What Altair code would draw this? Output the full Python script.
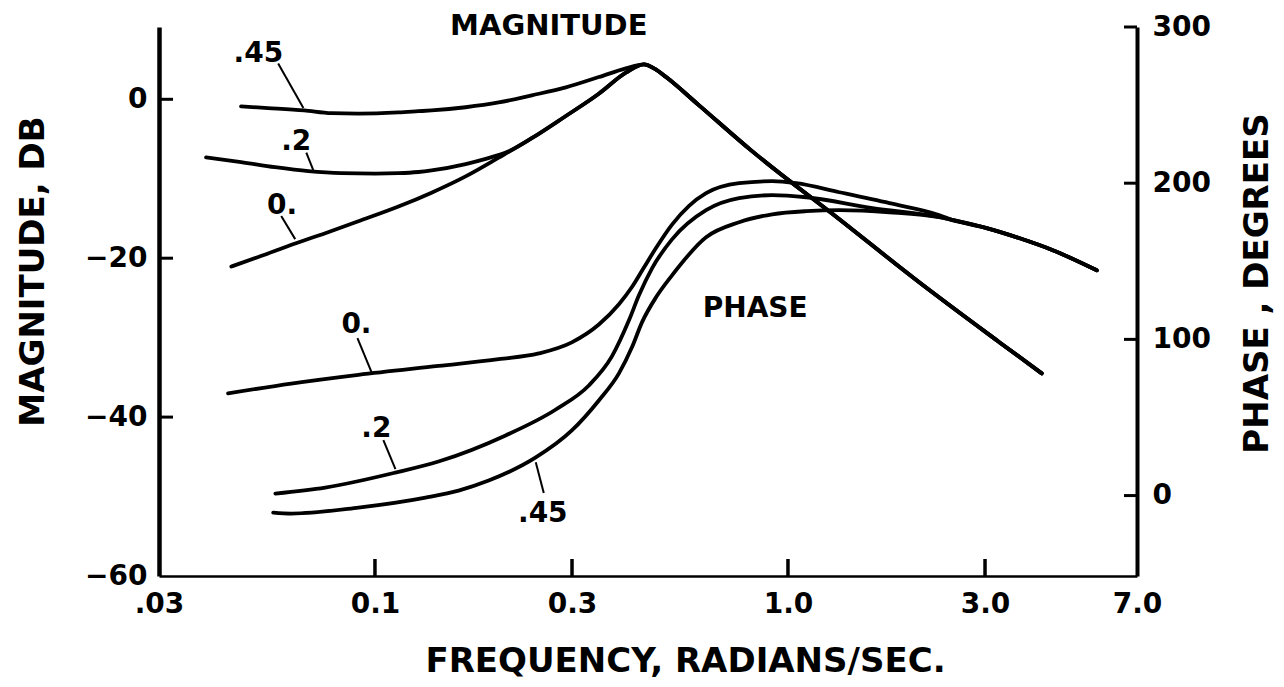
import altair as alt
import pandas as pd

# ---------------- data ----------------
# Magnitude (dB) curves, frequency in rad/s
mag_0_f = [0.0449, 0.0522, 0.0641, 0.0758, 0.0912, 0.1140, 0.1371, 0.1658, 0.1993, 0.2397, 0.2899, 0.3484, 0.4051]
mag_0_db = [-21.05, -19.85, -18.15, -16.85, -15.35, -13.5, -11.75, -9.7, -7.35, -4.9, -2.1, 0.7, 3.35]

mag_02_f = [0.0390, 0.0474, 0.0573, 0.0690, 0.0829, 0.1003, 0.1140, 0.1274, 0.1371, 0.1658, 0.1854, 0.2108, 0.2397, 0.2899, 0.3484, 0.4051]
mag_02_db = [-7.3, -7.9, -8.55, -9.05, -9.3, -9.35, -9.3, -9.15, -8.95, -8.15, -7.5, -6.55, -4.9, -2.1, 0.7, 3.35]

mag_045_f = [0.0474, 0.0551, 0.0674, 0.0784, 0.0912, 0.1140, 0.1274, 0.1371, 0.1658, 0.1993, 0.2397, 0.2899, 0.3484, 0.4051]
mag_045_db = [-0.9, -1.1, -1.4, -1.75, -1.8, -1.65, -1.5, -1.4, -1.0, -0.4, 0.5, 1.5, 2.8, 3.9]

# common resonant peak and high-frequency roll-off
mag_tail_f = [0.4480, 0.4738, 0.5068, 0.6092, 0.8145, 1.3316, 2.0822, 3.2545, 4.1156]
mag_tail_db = [4.4, 3.9, 2.8, -0.76, -6.43, -15.1, -23.06, -30.6, -34.5]

# Phase (degrees) curves
ph_0_f = [0.0441, 0.0627, 0.0912, 0.1425, 0.1993, 0.2493, 0.2997, 0.3484, 0.3897, 0.4190, 0.4480,
          0.4791, 0.5239, 0.5761, 0.6335, 0.7615, 0.9159, 1.0473, 1.3316, 1.7612, 2.3282]
ph_0_deg = [65.4, 71.7, 77.3, 83.0, 87.3, 91.0, 98.1, 109.5, 122.5, 133.5, 146.0,
            158.5, 173.5, 185.5, 193.6, 200.0, 201.3, 200.0, 194.2, 187.2, 179.5]

ph_02_f = [0.0574, 0.0758, 0.1121, 0.1425, 0.2072, 0.2741, 0.3295, 0.3747, 0.4121, 0.4357, 0.4686,
           0.5239, 0.6335, 0.7615, 0.9159, 1.1074, 1.6011, 2.3282]
ph_02_deg = [1.3, 5.1, 14.7, 21.8, 38.5, 55.1, 70.5, 89.1, 112.2, 128.2, 145.5,
             164.0, 182.7, 190.4, 192.3, 191.0, 184.0, 178.2]

ph_045_f = [0.0567, 0.0627, 0.0912, 0.1326, 0.1594, 0.1885, 0.2451, 0.2997, 0.3484, 0.3897, 0.4190,
            0.4431, 0.4791, 0.5239, 0.6335, 0.7615, 0.9159, 1.1074, 1.3316, 1.7612, 2.3282]
ph_045_deg = [-10.9, -11.5, -7.7, -1.3, 3.2, 9.6, 24.4, 41.7, 60.9, 78.2, 94.9,
              110.9, 126.9, 141.0, 165.4, 175.0, 180.1, 182.1, 182.7, 181.4, 178.2]

ph_tail_f = [2.5031, 3.0269, 3.6394, 4.3766, 5.5956]
ph_tail_deg = [176.4, 171.2, 164.7, 157.1, 144.2]

# axis ticks
x_tick_values = [0.03, 0.1, 0.3, 1.0, 3.0, 7.0]
x_inner_ticks = [0.1, 0.3, 1.0, 3.0]
db_tick_values = [0, -20, -40, -60]
db_inner_ticks = [0, -20, -40]
ph_tick_values = [0, 100, 200, 300]

# curve labels (text, frequency, value)
mag_lab_text = [".45", ".2", "0.", "MAGNITUDE"]
mag_lab_f = [0.0522, 0.0645, 0.0596, 0.2636]
mag_lab_db = [4.7, -6.4, -14.4, 8.1]
mag_lab_size = [28, 28, 28, 29]

mag_lead_f1 = [0.0583, 0.0682, 0.0593]
mag_lead_db1 = [4.5, -6.7, -14.7]
mag_lead_f2 = [0.0671, 0.0709, 0.0641]
mag_lead_db2 = [-1.1, -8.9, -17.6]

ph_lab_text = ["0.", ".2", ".45", "PHASE"]
ph_lab_f = [0.0902, 0.1008, 0.2549, 0.8329]
ph_lab_deg = [104.0, 37.5, -17.0, 114.3]

ph_lead_f1 = [0.0907, 0.1048, 0.2451]
ph_lead_deg1 = [100.8, 35.5, 21.4]
ph_lead_f2 = [0.0981, 0.1121, 0.2563]
ph_lead_deg2 = [79.1, 17.0, 1.6]

# ---------------- tables ----------------
def curve(name, f, v, tf, tv, col):
    return pd.DataFrame({"f": list(f) + list(tf), col: list(v) + list(tv), "curve": name})

mag_df = pd.concat([
    curve("0.", mag_0_f, mag_0_db, mag_tail_f, mag_tail_db, "db"),
    curve(".2", mag_02_f, mag_02_db, mag_tail_f, mag_tail_db, "db"),
    curve(".45", mag_045_f, mag_045_db, mag_tail_f, mag_tail_db, "db"),
])
ph_df = pd.concat([
    curve("0.", ph_0_f, ph_0_deg, ph_tail_f, ph_tail_deg, "ph"),
    curve(".2", ph_02_f, ph_02_deg, ph_tail_f, ph_tail_deg, "ph"),
    curve(".45", ph_045_f, ph_045_deg, ph_tail_f, ph_tail_deg, "ph"),
])

W, H = 978, 549
FONT = "DejaVu Sans"

xscale = alt.Scale(type="log", domain=[0.03, 7], nice=False)
dbscale = alt.Scale(domain=[-60, 9.1], nice=False, zero=False)
phscale = alt.Scale(domain=[-51.5, 300], nice=False, zero=False)

x_axis = alt.Axis(values=x_tick_values, labelExpr="datum.value < 0.05 ? '.03' : format(datum.value, '.1f')",
                  ticks=False, grid=False, domainColor="black", domainWidth=2.5,
                  labelFont=FONT, labelFontWeight="bold", labelFontSize=28, labelColor="black",
                  labelPadding=14, labelFlush=False, labelOverlap=False,
                  title="FREQUENCY, RADIANS/SEC.", titleFont=FONT, titleFontWeight="bold",
                  titleFontSize=34, titleColor="black", titleX=526, titleY=95,
                  titleAlign="center", titleBaseline="alphabetic")

left_axis = alt.Axis(values=db_tick_values, orient="left", ticks=False, grid=False,
                     domainColor="black", domainWidth=4.5,
                     labelFont=FONT, labelFontWeight="bold", labelFontSize=28, labelColor="black",
                     labelPadding=12, labelFlush=False, labelOverlap=False,
                     title="MAGNITUDE, DB", titleFont=FONT, titleFontWeight="bold",
                     titleFontSize=34, titleColor="black", titleAngle=270,
                     titleX=-116, titleY=244, titleAlign="center", titleBaseline="alphabetic")

right_axis = alt.Axis(values=ph_tick_values, orient="right", ticks=False, grid=False,
                      domainColor="black", domainWidth=4,
                      labelFont=FONT, labelFontWeight="bold", labelFontSize=28, labelColor="black",
                      labelPadding=15, labelFlush=False, labelOverlap=False,
                      title="PHASE , DEGREES", titleFont=FONT, titleFontWeight="bold",
                      titleFontSize=34, titleColor="black", titleAngle=270,
                      titleX=130, titleY=256, titleAlign="center", titleBaseline="alphabetic")

line_style = dict(color="black", strokeWidth=3.8, interpolate="monotone", strokeCap="round", strokeJoin="round")

# every layer of a group carries the identical axis definition so the merged axis stays enabled
def X(field):
    return alt.X(field, type="quantitative", scale=xscale, axis=x_axis)

def YDB(field):
    return alt.Y(field, type="quantitative", scale=dbscale, axis=left_axis)

def YPH(field):
    return alt.Y(field, type="quantitative", scale=phscale, axis=right_axis)

# ---------------- magnitude layer ----------------
mag_lines = alt.Chart(mag_df).mark_line(**line_style).encode(
    x=X("f"), y=YDB("db"), detail="curve:N")

mag_ticks = alt.Chart(pd.DataFrame({"db": db_inner_ticks})).mark_rule(color="black", strokeWidth=3).encode(
    y=YDB("db"), x=alt.value(0), x2=alt.value(14))

x_ticks = alt.Chart(pd.DataFrame({"f": x_inner_ticks})).mark_rule(color="black", strokeWidth=3.5).encode(
    x=X("f"), y=alt.value(H), y2=alt.value(H - 17))

mag_text = alt.Chart(pd.DataFrame({"f": mag_lab_f, "db": mag_lab_db, "t": mag_lab_text, "s": mag_lab_size})).mark_text(
    font=FONT, fontWeight="bold", align="center", baseline="alphabetic", color="black").encode(
    x=X("f"), y=YDB("db"), text="t:N", size=alt.Size("s:Q", scale=None, legend=None))

mag_lead = alt.Chart(pd.DataFrame({"f1": mag_lead_f1, "f2": mag_lead_f2, "d1": mag_lead_db1, "d2": mag_lead_db2})).mark_rule(
    color="black", strokeWidth=2).encode(
    x=X("f1"), x2="f2:Q", y=YDB("d1"), y2="d2:Q")

mag_layer = alt.layer(mag_lines, mag_ticks, x_ticks, mag_lead, mag_text)

# ---------------- phase layer ----------------
ph_lines = alt.Chart(ph_df).mark_line(**line_style).encode(
    x=X("f"), y=YPH("ph"), detail="curve:N")

ph_ticks = alt.Chart(pd.DataFrame({"ph": ph_tick_values})).mark_rule(color="black", strokeWidth=3).encode(
    y=YPH("ph"), x=alt.value(W - 13), x2=alt.value(W))

ph_text = alt.Chart(pd.DataFrame({"f": ph_lab_f, "ph": ph_lab_deg, "t": ph_lab_text})).mark_text(
    font=FONT, fontWeight="bold", fontSize=28, align="center", baseline="alphabetic", color="black").encode(
    x=X("f"), y=YPH("ph"), text="t:N")

ph_lead = alt.Chart(pd.DataFrame({"f1": ph_lead_f1, "f2": ph_lead_f2, "d1": ph_lead_deg1, "d2": ph_lead_deg2})).mark_rule(
    color="black", strokeWidth=2).encode(
    x=X("f1"), x2="f2:Q", y=YPH("d1"), y2="d2:Q")

ph_layer = alt.layer(ph_lines, ph_ticks, ph_lead, ph_text)

chart = alt.layer(mag_layer, ph_layer).resolve_scale(y="independent").properties(
    width=W, height=H,
    padding={"left": 151, "top": 19, "right": 139, "bottom": 103},
    autosize=alt.AutoSizeParams(type="none"),
    background="white",
).configure_view(strokeWidth=0)

chart.save("out.html", embed_options={"renderer": "svg", "actions": False})
